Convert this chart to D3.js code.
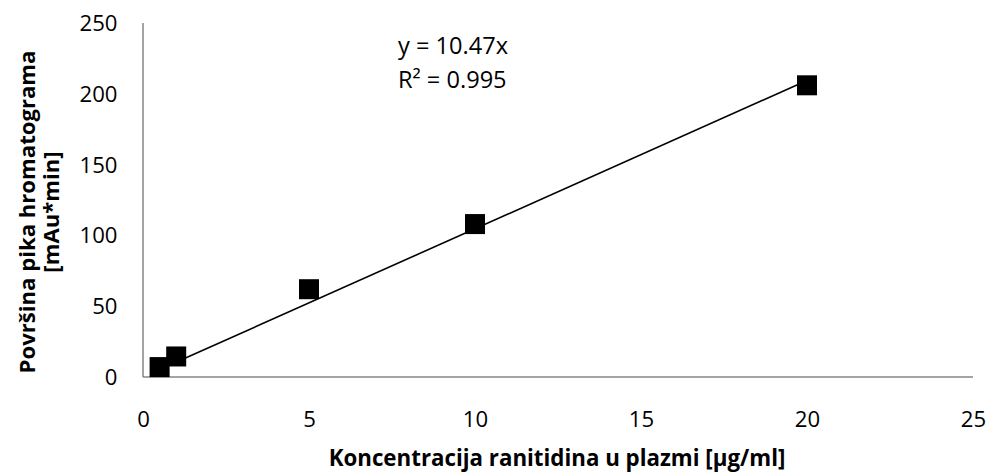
<!DOCTYPE html>
<html><head><meta charset="utf-8">
<script src="https://cdn.jsdelivr.net/npm/d3@7"></script>
<style>
body{margin:0;background:#fff;}
text{font-family:"Open Sans", Lato, sans-serif;fill:#000;}
</style></head>
<body><svg id="c" width="989" height="473"></svg>
<script>
const concentrations = [0.5, 1, 5, 10, 20];
const areas = [7, 14.5, 62, 108, 206];
const slope = 10.47;
const xTicks = [0, 5, 10, 15, 20, 25];
const yTicks = [0, 50, 100, 150, 200, 250];
const equationText = "y = 10.47x";
const r2Text = "R² = 0.995";
const xTitle = "Koncentracija ranitidina u plazmi [µg/ml]";
const yTitleLines = ["Površina pika hromatograma", "[mAu*min]"];

const svg = d3.select("#c");
const x = d3.scaleLinear().domain([0, 25]).range([143, 973]);
const y = d3.scaleLinear().domain([0, 250]).range([377, 23]);

function fit(sel, target) {
  const fs = parseFloat(sel.attr("font-size"));
  const w = sel.node().getComputedTextLength();
  sel.attr("font-size", (fs * target / w).toFixed(2));
}

// axes lines
const axisColor = "#868686";
svg.append("line").attr("x1", x(0)).attr("x2", x(25)).attr("y1", y(0)).attr("y2", y(0))
  .attr("stroke", axisColor).attr("stroke-width", 1.5);
svg.append("line").attr("x1", x(0)).attr("x2", x(0)).attr("y1", y(0)).attr("y2", y(250))
  .attr("stroke", axisColor).attr("stroke-width", 1.5);

// tick label size fit on "250" (~38px wide)
const probe = svg.append("text").attr("font-size", 20).text("250");
fit(probe, 38);
const tickFs = probe.attr("font-size");
probe.remove();

svg.selectAll(".xt").data(xTicks).enter().append("text")
  .attr("x", d => x(d) + 0.5).attr("y", 427).attr("text-anchor", "middle")
  .attr("font-size", tickFs).text(d => d);
svg.selectAll(".yt").data(yTicks).enter().append("text")
  .attr("x", 117.5).attr("y", d => y(d) + 8).attr("text-anchor", "end")
  .attr("font-size", tickFs).text(d => d);

// trendline
const xmin = d3.min(concentrations), xmax = d3.max(concentrations);
svg.append("line").attr("x1", x(xmin)).attr("y1", y(slope * xmin))
  .attr("x2", x(xmax)).attr("y2", y(slope * xmax))
  .attr("stroke", "#000").attr("stroke-width", 1.6);

// markers
const s = 20;
svg.selectAll(".pt").data(concentrations).enter().append("rect")
  .attr("x", d => x(d) - s / 2).attr("y", (d, i) => y(areas[i]) - s / 2)
  .attr("width", s).attr("height", s).attr("fill", "#000");

// equation
const e1 = svg.append("text").attr("x", 398).attr("y", 54).attr("font-size", 20).text(equationText);
fit(e1, 110);
svg.append("text").attr("x", 398).attr("y", 88).attr("font-size", e1.attr("font-size")).text(r2Text);

// axis titles
const xt = svg.append("text").attr("x", 557).attr("y", 466).attr("text-anchor", "middle")
  .attr("font-size", 20).attr("font-weight", "bold").text(xTitle);
fit(xt, 457);

const cy = 212;
const yl1 = svg.append("text").attr("transform", `translate(35,${cy}) rotate(-90)`)
  .attr("text-anchor", "middle").attr("font-size", 20).attr("font-weight", "bold").text(yTitleLines[0]);
fit(yl1, 323);
svg.append("text").attr("transform", `translate(59,${cy}) rotate(-90)`)
  .attr("text-anchor", "middle").attr("font-size", yl1.attr("font-size")).attr("font-weight", "bold").text(yTitleLines[1]);
</script></body></html>
